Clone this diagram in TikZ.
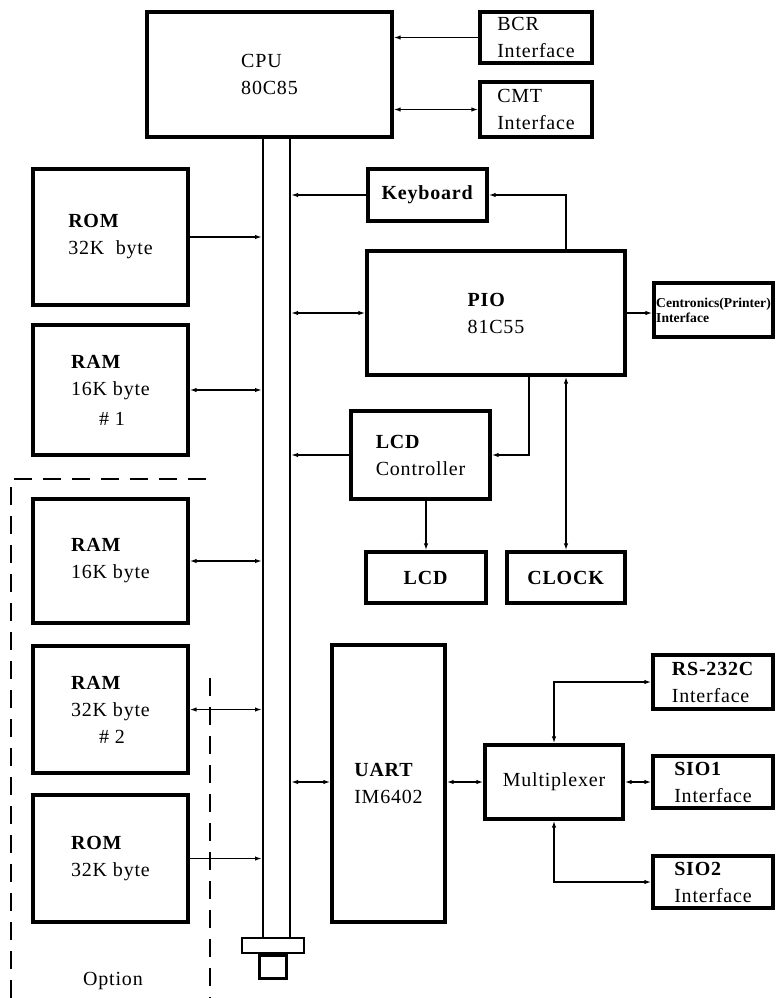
\documentclass[tikz,border=0pt]{standalone}
\usepackage{fontspec}
\setmainfont{Liberation Serif}[LetterSpace=4.0]
\usetikzlibrary{arrows.meta}

\begin{document}
\begin{tikzpicture}[x=1pt, y=-1pt,
  >={Latex[length=7pt,width=4.4pt]},
  every node/.style={font=\fontsize{20}{27}\selectfont},
  blk/.style={draw, line width=3.2pt, inner sep=0pt, align=left},
  wire/.style={line width=1.8pt},
  optline/.style={line width=2pt, dash pattern=on 18pt off 11pt}]
\useasboundingbox (0,0) rectangle (776,998);

% CPU and its interfaces
\node[blk, minimum width=245pt, minimum height=125pt] (cpu) at (269.5,74.5) {CPU\\80C85};
\node[blk, minimum width=112pt, minimum height=51pt] (bcr) at (536,37.5) {BCR\\Interface};
\node[blk, minimum width=112pt, minimum height=55pt] (cmt) at (536,109.5) {CMT\\Interface};

% system bus
\node[draw, line width=2pt, inner sep=0pt, minimum width=27pt, minimum height=801pt] (bus) at (276.5,537.5) {};
\node[draw, line width=2.4pt, inner sep=0pt, minimum width=62pt, minimum height=15pt] (busend) at (273,945.5) {};
\node[draw, line width=2.4pt, inner sep=0pt, minimum width=27pt, minimum height=23pt, anchor=north] (busplug) at (busend.south) {};

% memories
\node[blk, minimum width=155pt, minimum height=136pt] (rom1) at (110.5,237) {\textbf{ROM}\\32K\ \ byte};
\node[blk, minimum width=155pt, minimum height=130pt] (ram1) at (110.5,390) {\textbf{RAM}\\16K byte\\[3pt]\hspace*{1.4em}\# 1};
\node[blk, minimum width=155pt, minimum height=124pt] (ram2) at (110.5,561) {\textbf{RAM}\\16K byte};
\node[blk, minimum width=155pt, minimum height=127pt] (ram3) at (110.5,709.5) {\textbf{RAM}\\32K byte\\\hspace*{1.4em}\# 2};
\node[blk, minimum width=155pt, minimum height=127pt] (rom2) at (110.5,858.5) {\textbf{ROM}\\32K byte};

% option frame
\draw[optline] (11,998) -- (11,479) -- (210,479);
\draw[optline] (210,678) -- (210,998);
\node (opt) at (113,981) {Option};

% peripherals
\node[blk, minimum width=258pt, minimum height=124pt] (pio) at (496,313) {\textbf{PIO}\\81C55};
\node[blk, minimum width=119pt, minimum height=52pt] (kbd) at (427.5,195) {\textbf{Keyboard}};
\node[blk, minimum width=119pt, minimum height=54pt, font=\bfseries\fontsize{13.6}{15}\selectfont\addfontfeature{LetterSpace=0}] (cen) at (713.5,310) {Centronics(Printer)\\Interface};
\node[blk, minimum width=139pt, minimum height=88pt] (lcdc) at (420.5,455) {\textbf{LCD}\\Controller};
\node[blk, minimum width=120pt, minimum height=51pt] (lcd) at (426,577.5) {\textbf{LCD}};
\node[blk, minimum width=118pt, minimum height=51pt] (clk) at (566,577.5) {\textbf{CLOCK}};

% serial part
\node[blk, minimum width=113pt, minimum height=277pt] (uart) at (388.5,783.5) {\textbf{UART}\\IM6402};
\node[blk, minimum width=138pt, minimum height=74pt] (mux) at (554,782) {Multiplexer};
\node[blk, minimum width=120pt, minimum height=54pt] (rs) at (713,682) {\textbf{RS-232C}\\Interface};
\node[blk, minimum width=120pt, minimum height=52pt] (sio1) at (713,782) {\textbf{SIO1}\\Interface};
\node[blk, minimum width=120pt, minimum height=52pt] (sio2) at (713,882) {\textbf{SIO2}\\Interface};

% connections to the CPU
\draw[wire,->] (bcr.west) -- (bcr.west -| cpu.east);
\draw[wire,<->] (cmt.west) -- (cmt.west -| cpu.east);

% connections to the bus
\draw[wire,->] (rom1.east) -- (rom1.east -| bus.west);
\draw[wire,<->] (ram1.east) -- (ram1.east -| bus.west);
\draw[wire,<->] (ram2.east) -- (ram2.east -| bus.west);
\draw[wire,<->] (ram3.east) -- (ram3.east -| bus.west);
\draw[wire,->] (rom2.east) -- (rom2.east -| bus.west);
\draw[wire,->] (kbd.west) -- (kbd.west -| bus.east);
\draw[wire,<->] (pio.west -| bus.east) -- (pio.west);
\draw[wire,->] (lcdc.west) -- (lcdc.west -| bus.east);
\draw[wire,<->] (bus.east |- mux.west) -- (uart.west |- mux.west);

% PIO lines
\draw[wire,->] (clk.north |- pio.north) |- (kbd.east);
\draw[wire,->] (pio.east) -- (pio.east -| cen.west);
\draw[wire,->] ([xshift=33pt]pio.south) |- (lcdc.east);
\draw[wire,->] (lcd.north |- lcdc.south) -- (lcd.north);
\draw[wire,<->] (clk.north |- pio.south) -- (clk.north);

% serial lines
\draw[wire,<->] (uart.east |- mux.west) -- (mux.west);
\draw[wire,<->] (mux.north) |- (rs.west);
\draw[wire,<->] (mux.east) -- (sio1.west);
\draw[wire,<->] (mux.south) |- (sio2.west);

\end{tikzpicture}
\end{document}
